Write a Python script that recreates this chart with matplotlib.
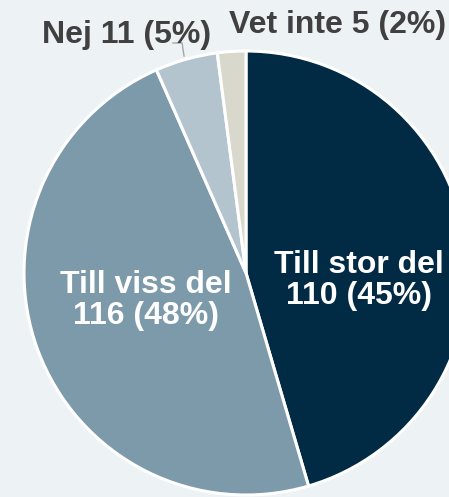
import matplotlib
matplotlib.use("Agg")
import matplotlib.pyplot as plt

plt.rcParams['font.family'] = ['Liberation Sans', 'DejaVu Sans']

categories = ["Till stor del", "Till viss del", "Nej", "Vet inte"]
counts = [110, 116, 11, 5]
percents = [45, 48, 5, 2]
colors = ["#012a44", "#7d9aab", "#b3c4cf", "#d9d8cc"]
bg = "#edf2f5"

fig = plt.figure(figsize=(4.49, 4.97), dpi=100, facecolor=bg)
# pie centre ~ (246, 273) px, radius ~222 px; right part runs off the canvas
ax = fig.add_axes([24 / 449, (497 - 273 - 222) / 497, 444 / 449, 444 / 497])
ax.set_facecolor(bg)

wedges, _ = ax.pie(counts, colors=colors, startangle=90, counterclock=False,
                   wedgeprops=dict(edgecolor="white", linewidth=2.2))
ax.set_xlim(-1, 1)
ax.set_ylim(-1, 1)
ax.axis("off")

labels = [f"{c}\n{n} ({p}%)" if i < 2 else f"{c} {n} ({p}%)"
          for i, (c, n, p) in enumerate(zip(categories, counts, percents))]

fs = 23
# inside labels
ax.text(0.51, -0.035, labels[0], color="white", fontsize=fs, fontweight="bold",
        ha="center", va="center", linespacing=1.05)
ax.text(-0.45, -0.125, labels[1], color="white", fontsize=fs, fontweight="bold",
        ha="center", va="center", linespacing=1.05)

# outside labels
ax.text(-0.54, 1.036, labels[2], color="#404040", fontsize=fs, fontweight="bold",
        ha="center", va="baseline", clip_on=False)
ax.text(0.414, 1.081, labels[3], color="#404040", fontsize=fs, fontweight="bold",
        ha="center", va="baseline", clip_on=False)

# leader line for Nej
ax.plot([-0.329, -0.288, -0.279], [1.036, 1.036, 0.977], color="#a6a6a6",
        lw=1, clip_on=False)

fig.savefig("out.png", dpi=100, facecolor=bg)
